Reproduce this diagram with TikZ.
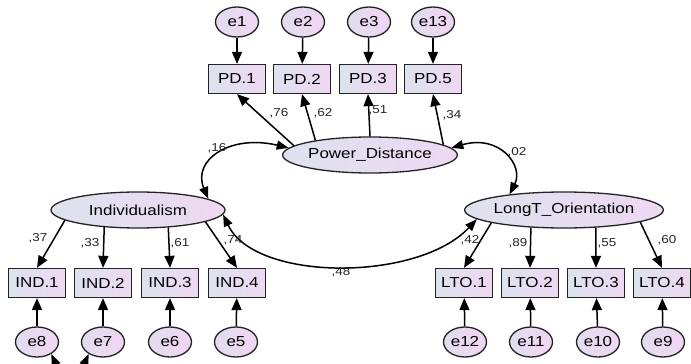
\documentclass[tikz,border=0pt]{standalone}
\usepackage{fontspec}
\setmainfont{Liberation Sans}[FakeStretch=1.17]
\usetikzlibrary{shapes.geometric,arrows.meta}
\newcommand\fsz[1]{\fontsize{#1}{#1}\selectfont}
\definecolor{fillL}{RGB}{221,226,238}
\definecolor{fillR}{RGB}{238,216,242}
\definecolor{errL}{RGB}{226,220,240}
\definecolor{errR}{RGB}{240,214,242}
\definecolor{edge}{RGB}{35,35,35}
\tikzset{
  latent/.style={ellipse, draw=edge, line width=1.3pt, minimum width=174pt,
    minimum height=36pt, inner sep=0pt, left color=fillL, right color=fillR,
    font=\fsz{14.5}},
  obs/.style={rectangle, draw=edge, line width=1.3pt, minimum width=57pt,
    minimum height=29pt, inner sep=0pt, left color=fillL, right color=fillR,
    font=\fsz{14.5}},
  err/.style={ellipse, draw=edge, line width=1.3pt, minimum width=43pt,
    minimum height=30pt, inner sep=0pt, left color=errL, right color=errR,
    font=\fsz{14.5}},
  regpath/.style={draw=black, line width=1.5pt,
    -{Triangle[length=12pt,width=10pt]}},
  covpath/.style={draw=black, line width=1.5pt,
    {Triangle[length=12pt,width=9pt]}-{Triangle[length=12pt,width=9pt]}},
  coef/.style={font=\fsz{11.5}, text=black!85, inner sep=0pt}
}
\begin{document}
\begin{tikzpicture}[x=1pt,y=-1pt]
  \fill[white] (0,0) rectangle (691,364);
  \useasboundingbox (0,0) rectangle (691,364);
  \clip (0,0) rectangle (691,364);

  % latent factors
  \node[latent] (pd)  at (370,155) {Power\_Distance};
  \node[latent] (ind) at (138,210) {Individualism};
  \node[latent] (lto) at (564,210) {LongT\_Orientation};

  % Power distance indicators and errors
  \node[obs] (pd1) at (237,79) {PD.1};
  \node[obs] (pd2) at (302,79) {PD.2};
  \node[obs] (pd3) at (368,79) {PD.3};
  \node[obs] (pd5) at (433,79) {PD.5};
  \node[err] (e1)  at (237,22) {e1};
  \node[err] (e2)  at (303,22) {e2};
  \node[err] (e3)  at (369,22) {e3};
  \node[err] (e13) at (433,22) {e13};

  % Individualism indicators and errors
  \node[obs] (ind1) at (37,283)  {IND.1};
  \node[obs] (ind2) at (103,283) {IND.2};
  \node[obs] (ind3) at (170,283) {IND.3};
  \node[obs] (ind4) at (237,283) {IND.4};
  \node[err] (e8) at (37,342)  {e8};
  \node[err] (e7) at (103,342) {e7};
  \node[err] (e6) at (170,342) {e6};
  \node[err] (e5) at (236,342) {e5};

  % Long-term orientation indicators and errors
  \node[obs] (lto1) at (464,283) {LTO.1};
  \node[obs] (lto2) at (530,283) {LTO.2};
  \node[obs] (lto3) at (596,283) {LTO.3};
  \node[obs] (lto4) at (662,283) {LTO.4};
  \node[err] (e12) at (465,342) {e12};
  \node[err] (e11) at (531,342) {e11};
  \node[err] (e10) at (598,342) {e10};
  \node[err] (e9)  at (663,342) {e9};

  % error terms
  \foreach \e/\v in {e1/pd1,e2/pd2,e3/pd3,e13/pd5,
                     e8/ind1,e7/ind2,e6/ind3,e5/ind4,
                     e12/lto1,e11/lto2,e10/lto3,e9/lto4}
    \draw[regpath] (\e) -- (\v);

  % factor loadings
  \draw[regpath] (pd.173) -- (pd1.south);
  \draw[regpath] (pd.165) -- (pd2.south);
  \draw[regpath] (pd.90)  -- (pd3.south);
  \draw[regpath] (pd.8)   -- (pd5.south);

  \draw[regpath] (ind.188) -- (ind1.north);
  \draw[regpath] (ind.207) -- (ind2.north);
  \draw[regpath] (ind.330) -- (ind3.north);
  \draw[regpath] (ind.350) -- (ind4.north);

  \draw[regpath] (lto.190) -- (lto1.north);
  \draw[regpath] (lto.208) -- (lto2.north);
  \draw[regpath] (lto.331) -- (lto3.north);
  \draw[regpath] (lto.351) -- (lto4.north);

  % covariances
  \draw[covpath] (pd.175) .. controls (230,134) and (192,160) .. (ind.9);
  \draw[covpath] (pd.5) .. controls (500,134) and (524,166) .. (lto.164);
  \draw[covpath] (ind.-3) .. controls (255,282) and (418,282) .. (lto.186);
  \draw[covpath] (e8.-40) .. controls (62,378) and (78,378) .. (e7.220);

  % estimates
  \node[coef] (c76) at (279,113) {,76};
  \node[coef] (c62) at (323,113) {,62};
  \node[coef] (c51) at (378,110) {,51};
  \node[coef] (c34) at (452,115) {,34};
  \node[coef] (c16) at (217,148) {,16};
  \node[coef] (c02) at (517,152) {,02};
  \node[coef] (c48) at (341,272) {,48};
  \node[coef] (c37) at (38,238)  {,37};
  \node[coef] (c33) at (90,243)  {,33};
  \node[coef] (c61) at (180,243) {,61};
  \node[coef] (c74) at (233,240) {,74};
  \node[coef] (c42) at (470,240) {,42};
  \node[coef] (c89) at (518,243) {,89};
  \node[coef] (c55) at (607,243) {,55};
  \node[coef] (c60) at (667,240) {,60};
\end{tikzpicture}
\end{document}
